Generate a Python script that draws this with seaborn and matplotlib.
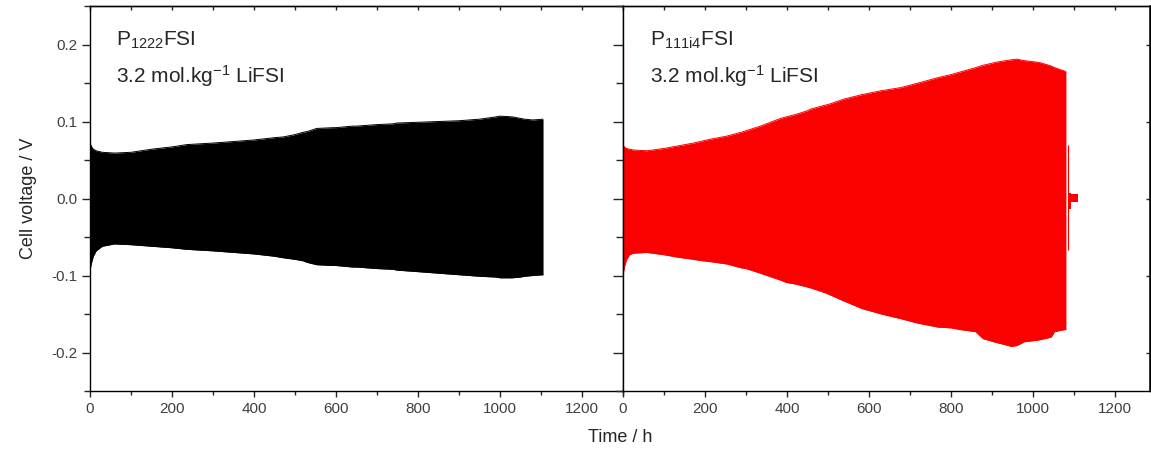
import numpy as np
import pandas as pd
import seaborn as sns
import matplotlib
matplotlib.use("Agg")
import matplotlib.pyplot as plt
from matplotlib.ticker import MultipleLocator, NullFormatter

# Galvanostatic cycling envelopes (upper / lower cell-voltage bounds vs time)
t_p1222 = [0, 3, 8, 15, 30, 60, 100, 150, 200, 236, 268, 300, 325, 350, 400, 450,
           472, 500, 520, 530, 553, 594, 600, 640, 650, 675, 700, 740, 748, 800,
           850, 900, 950, 990, 1000, 1030, 1050, 1060, 1080, 1105]
up_p1222 = [0.072, 0.068, 0.064, 0.062, 0.060, 0.059, 0.060, 0.064, 0.067, 0.070,
            0.071, 0.072, 0.073, 0.074, 0.076, 0.079, 0.080, 0.083, 0.086, 0.087,
            0.091, 0.092, 0.092, 0.094, 0.094, 0.095, 0.096, 0.097, 0.098, 0.099,
            0.100, 0.101, 0.103, 0.106, 0.107, 0.106, 0.104, 0.103, 0.102, 0.103]
lo_p1222 = [-0.093, -0.085, -0.075, -0.068, -0.062, -0.059, -0.060, -0.062, -0.064,
            -0.066, -0.067, -0.068, -0.069, -0.070, -0.072, -0.075, -0.077, -0.079,
            -0.081, -0.083, -0.086, -0.087, -0.087, -0.089, -0.089, -0.090, -0.091,
            -0.092, -0.093, -0.095, -0.097, -0.099, -0.101, -0.102, -0.103, -0.103,
            -0.102, -0.101, -0.100, -0.099]

t_p111i4 = [0, 3, 8, 16, 25, 58, 100, 131, 172, 196, 213, 253, 288, 300, 335, 340,
            384, 398, 420, 450, 457, 491, 500, 538, 583, 630, 677, 720, 768, 800,
            820, 860, 878, 910, 933, 946, 960, 979, 1010, 1020, 1044, 1052, 1068, 1080]
up_p111i4 = [0.070, 0.067, 0.065, 0.064, 0.063, 0.062, 0.065, 0.068, 0.072, 0.075,
             0.077, 0.081, 0.086, 0.088, 0.094, 0.095, 0.104, 0.106, 0.109, 0.114,
             0.116, 0.121, 0.122, 0.129, 0.135, 0.140, 0.144, 0.150, 0.157, 0.161,
             0.164, 0.170, 0.173, 0.177, 0.179, 0.180, 0.181, 0.179, 0.177, 0.176,
             0.172, 0.170, 0.167, 0.165]
lo_p111i4 = [-0.100, -0.090, -0.080, -0.073, -0.071, -0.070, -0.073, -0.076, -0.079,
             -0.081, -0.082, -0.085, -0.090, -0.091, -0.097, -0.098, -0.106, -0.109,
             -0.111, -0.115, -0.116, -0.122, -0.124, -0.133, -0.143, -0.150, -0.156,
             -0.162, -0.167, -0.168, -0.170, -0.173, -0.182, -0.187, -0.190, -0.192,
             -0.191, -0.186, -0.184, -0.183, -0.180, -0.173, -0.171, -0.170]

# short tail recorded after the main run ended
t_tail = [1086, 1093, 1100, 1110]
up_tail = [0.007, 0.007, 0.006, 0.006]
lo_tail = [-0.013, -0.013, -0.004, -0.004]
spike_t = 1085
spike_range = (-0.067, 0.070)

xticks = [0, 200, 400, 600, 800, 1000, 1200]
yticks = [-0.2, -0.1, 0.0, 0.1, 0.2]
ytick_labels = ["-0.2", "-0.1", "0.0", "0.1", "0.2"]

sns.set_theme(style="ticks")
plt.rcParams["font.family"] = ["Liberation Sans", "DejaVu Sans"]
plt.rcParams["mathtext.fontset"] = "custom"
plt.rcParams["mathtext.rm"] = "Liberation Sans"
plt.rcParams["mathtext.it"] = "Liberation Sans:italic"
plt.rcParams["mathtext.bf"] = "Liberation Sans:bold"

W, H = 1151, 450
fig = plt.figure(figsize=(W / 100, H / 100), dpi=100)
ax1 = fig.add_axes([90 / W, 59 / H, 533 / W, 385 / H])
ax2 = fig.add_axes([623 / W, 59 / H, 527 / W, 385 / H])

left = pd.DataFrame({"t": t_p1222, "up": up_p1222, "lo": lo_p1222})
right = pd.DataFrame({"t": t_p111i4, "up": up_p111i4, "lo": lo_p111i4})
tail = pd.DataFrame({"t": t_tail, "up": up_tail, "lo": lo_tail})

red = "#fb0000"
for ax, df, col in [(ax1, left, "black"), (ax2, right, red)]:
    ax.fill_between(df["t"], df["lo"], df["up"], color=col, lw=0)
    sns.lineplot(data=df, x="t", y="up", ax=ax, color=col, lw=0.7, estimator=None)
    sns.lineplot(data=df, x="t", y="lo", ax=ax, color=col, lw=0.7, estimator=None)

ax2.fill_between(tail["t"], tail["lo"], tail["up"], color=red, lw=0, step="pre")
ax2.vlines(spike_t, *spike_range, color=red, lw=0.8)
ax2.vlines(0, -0.10, 0.20, color=red, lw=0.8)

text_col = "#262626"
tick_col = "#404040"
for ax, xmax in [(ax1, 1300), (ax2, 1285)]:
    ax.set_xlim(0, xmax)
    ax.set_ylim(-0.25, 0.25)
    ax.set_xlabel("")
    ax.set_ylabel("")
    for s in ax.spines.values():
        s.set_visible(True)
        s.set_linewidth(1.0)
        s.set_color("black")
    ax.set_xticks(xticks)
    ax.xaxis.set_minor_locator(MultipleLocator(100))
    ax.set_yticks(yticks)
    ax.yaxis.set_minor_locator(MultipleLocator(0.05))
    ax.tick_params(axis="x", which="major", direction="out", length=4, width=1,
                   labelsize=11, labelcolor=tick_col, pad=4, top=False)
    ax.tick_params(axis="x", which="minor", direction="out", length=3, width=1,
                   top=False)
    top = ax.secondary_xaxis("top")
    top.xaxis.set_major_locator(MultipleLocator(100))
    top.xaxis.set_major_formatter(NullFormatter())
    top.tick_params(direction="in", length=3, width=1)
    top.spines["top"].set_linewidth(1.0)
    ax.set_facecolor("white")

ax1.tick_params(axis="y", which="major", direction="out", length=6, width=1,
                labelsize=11, labelcolor=tick_col, pad=3, right=False)
ax1.tick_params(axis="y", which="minor", direction="out", length=4, width=1, right=False)
ax1.set_yticklabels(ytick_labels)

ax2.tick_params(axis="y", which="major", direction="out", length=7, width=1,
                labelleft=False, right=False)
ax2.tick_params(axis="y", which="minor", direction="out", length=5, width=1, right=False)
rside = ax2.secondary_yaxis("right")
rside.set_yticks(yticks)
rside.yaxis.set_major_formatter(NullFormatter())
rside.tick_params(direction="in", length=3, width=1)

ax1.set_ylabel("Cell voltage / V", fontsize=13, color=text_col, labelpad=10)
fig.text(620 / W, 1 - 437 / H, "Time / h", fontsize=13, color=text_col,
         ha="center", va="center")

for ax, name, x0 in [(ax1, r"P$_\mathregular{1222}$FSI", 0.048),
                     (ax2, r"P$_\mathregular{111i4}$FSI", 0.051)]:
    ax.text(x0, 0.896, name, transform=ax.transAxes, fontsize=15,
            color=text_col, va="baseline", ha="left")
    ax.text(x0, 0.800, r"3.2 mol.kg$^\mathregular{-1}$ LiFSI",
            transform=ax.transAxes, fontsize=15, color=text_col,
            va="baseline", ha="left")

fig.savefig("out.png", dpi=100, facecolor="white")
